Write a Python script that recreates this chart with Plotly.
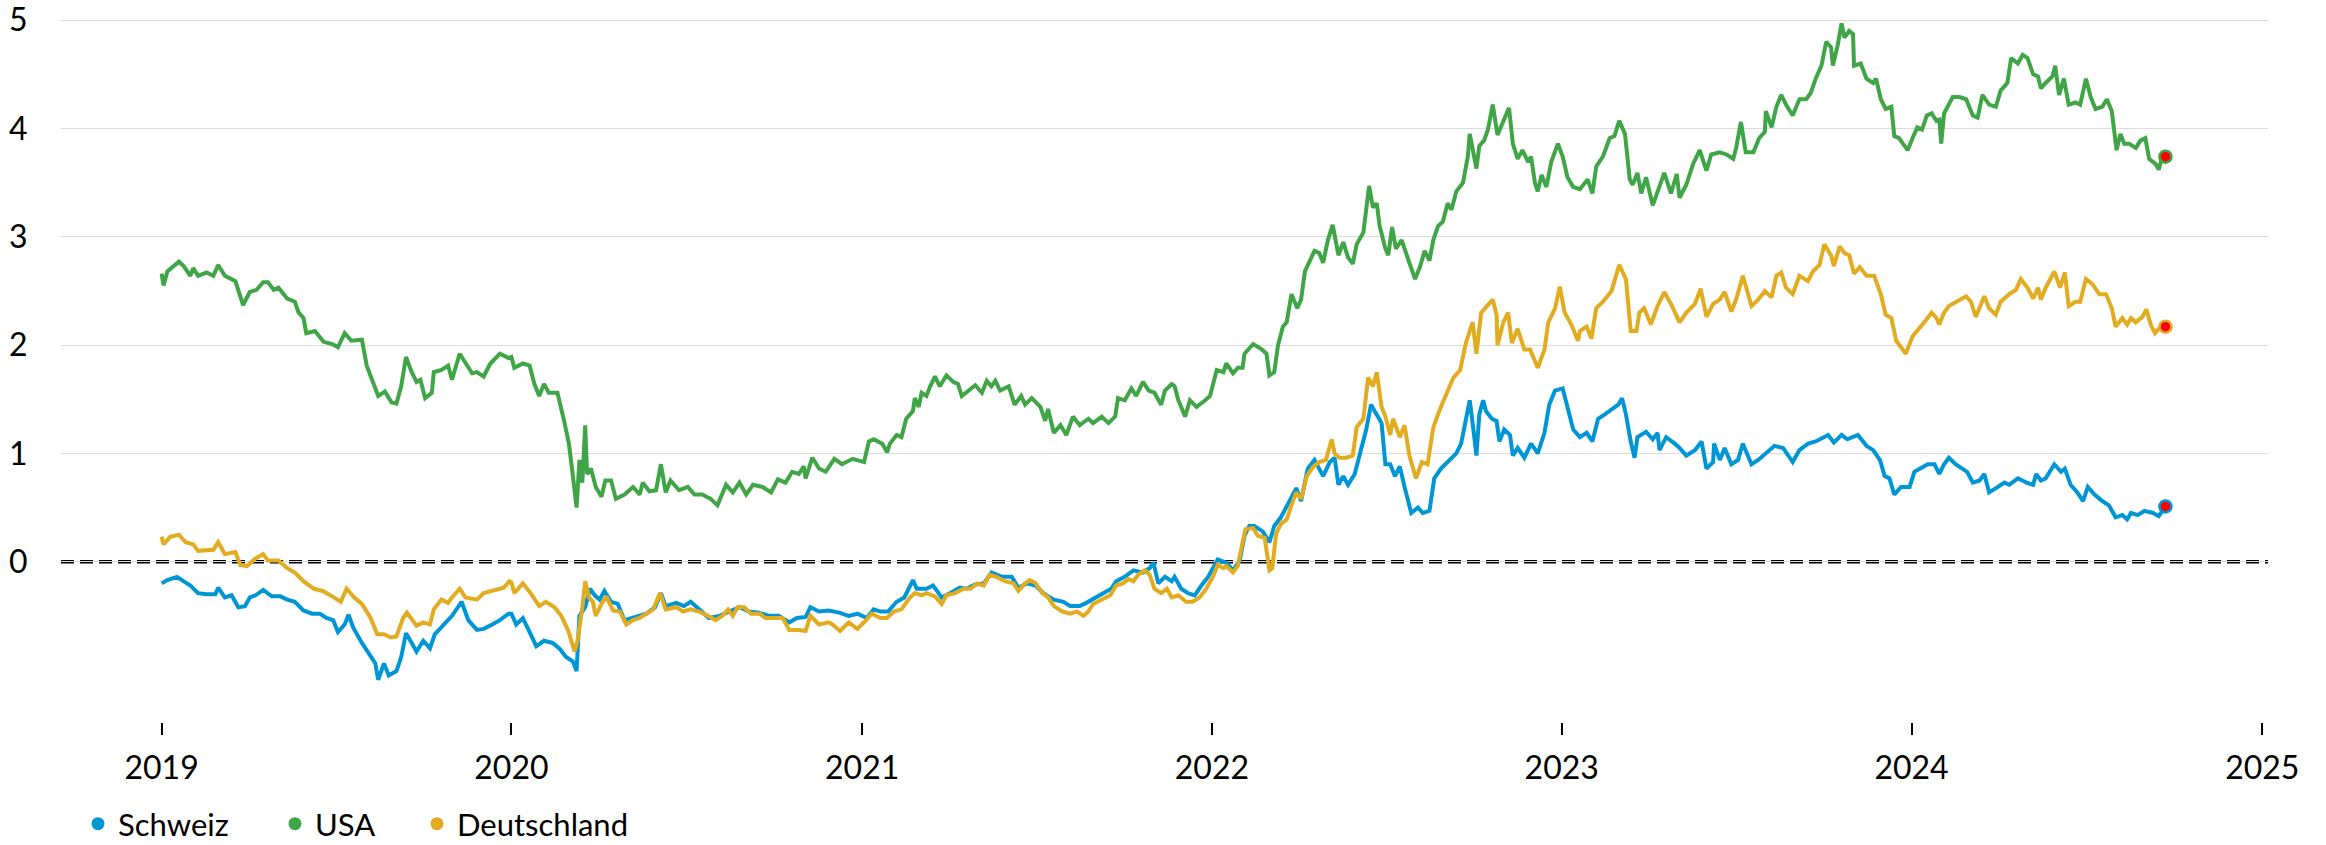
import plotly.graph_objects as go

# ---------------- data (10-year government bond yields, %) ----------------
ch_dates = [
    "2019-01-01","2019-01-07","2019-01-17","2019-01-24","2019-01-31","2019-02-08","2019-02-17","2019-02-26",
    "2019-03-01","2019-03-08","2019-03-15","2019-03-22","2019-03-29","2019-04-03","2019-04-09","2019-04-17",
    "2019-04-26","2019-05-05","2019-05-12","2019-05-20","2019-05-29","2019-06-07","2019-06-15","2019-06-22",
    "2019-06-29","2019-07-04","2019-07-11","2019-07-15","2019-07-20","2019-07-29","2019-08-07","2019-08-12",
    "2019-08-15","2019-08-21","2019-08-26","2019-09-03","2019-09-08","2019-09-13","2019-09-19","2019-09-24",
    "2019-10-01","2019-10-08","2019-10-13","2019-10-22","2019-10-31","2019-11-10","2019-11-17","2019-11-26",
    "2019-12-03","2019-12-12","2019-12-20","2019-12-29",
    "2020-01-01","2020-01-06","2020-01-13","2020-01-20","2020-01-27","2020-02-04","2020-02-13","2020-02-20",
    "2020-02-27","2020-03-05","2020-03-09","2020-03-12","2020-03-18","2020-03-23","2020-03-28","2020-04-02",
    "2020-04-07","2020-04-14","2020-04-21","2020-04-28","2020-05-07","2020-05-14","2020-05-21","2020-05-30",
    "2020-06-05","2020-06-10","2020-06-21","2020-06-29","2020-07-06","2020-07-15","2020-07-25","2020-08-05",
    "2020-08-15","2020-08-26","2020-09-05","2020-09-15","2020-09-26","2020-10-06","2020-10-17","2020-10-25",
    "2020-11-03","2020-11-08","2020-11-17","2020-11-27","2020-12-08","2020-12-18","2020-12-27",
    "2021-01-06","2021-01-13","2021-01-20","2021-01-28","2021-02-06","2021-02-14","2021-02-18","2021-02-23",
    "2021-02-27","2021-03-09","2021-03-16","2021-03-25","2021-04-03","2021-04-13","2021-04-20","2021-04-29",
    "2021-05-08","2021-05-16","2021-05-27","2021-06-06","2021-06-13","2021-06-22","2021-07-01","2021-07-09",
    "2021-07-20","2021-07-30","2021-08-06","2021-08-16","2021-08-23","2021-09-01","2021-09-10","2021-09-18",
    "2021-09-23","2021-10-02","2021-10-11","2021-10-21","2021-10-28","2021-11-01","2021-11-06","2021-11-13",
    "2021-11-20","2021-11-23","2021-11-30","2021-12-07","2021-12-14","2021-12-21","2021-12-28",
    "2022-01-07","2022-01-16","2022-01-23","2022-01-30","2022-02-04","2022-02-09","2022-02-14","2022-02-23",
    "2022-03-02","2022-03-07","2022-03-14","2022-03-21","2022-03-30","2022-04-04","2022-04-11","2022-04-18",
    "2022-04-27","2022-05-04","2022-05-09","2022-05-13","2022-05-18","2022-05-23","2022-05-30","2022-06-06",
    "2022-06-11","2022-06-16","2022-06-22","2022-06-27","2022-07-01","2022-07-06","2022-07-11","2022-07-16",
    "2022-07-21","2022-07-28","2022-08-04","2022-08-09","2022-08-16","2022-08-21","2022-08-28","2022-09-06",
    "2022-09-13","2022-09-18","2022-09-23","2022-09-27","2022-09-30","2022-10-04","2022-10-07","2022-10-11",
    "2022-10-14","2022-10-20","2022-10-25","2022-10-28","2022-11-02","2022-11-08","2022-11-11","2022-11-16",
    "2022-11-23","2022-11-30","2022-12-07","2022-12-14","2022-12-19","2022-12-25",
    "2023-01-02","2023-01-07","2023-01-13","2023-01-20","2023-01-27","2023-02-02","2023-02-08","2023-02-15",
    "2023-02-22","2023-03-01","2023-03-05","2023-03-09","2023-03-14","2023-03-18","2023-03-21","2023-03-30",
    "2023-04-06","2023-04-11","2023-04-13","2023-04-20","2023-04-29","2023-05-04","2023-05-11","2023-05-20",
    "2023-05-27","2023-06-01","2023-06-08","2023-06-09","2023-06-15","2023-06-20","2023-06-27","2023-07-04",
    "2023-07-09","2023-07-18","2023-07-25","2023-08-02","2023-08-11","2023-08-20","2023-08-30","2023-09-06",
    "2023-09-15","2023-09-23","2023-10-06","2023-10-12","2023-10-20","2023-10-26","2023-11-06","2023-11-15",
    "2023-11-22","2023-11-29","2023-12-04","2023-12-09","2023-12-14","2023-12-21","2023-12-30",
    "2024-01-04","2024-01-11","2024-01-18","2024-01-25","2024-01-30","2024-02-04","2024-02-09","2024-02-16",
    "2024-02-23","2024-02-28","2024-03-05","2024-03-12","2024-03-17","2024-03-22","2024-03-31","2024-04-07",
    "2024-04-12","2024-04-21","2024-04-30","2024-05-07","2024-05-10","2024-05-15","2024-05-20","2024-05-29",
    "2024-06-05","2024-06-09","2024-06-15","2024-06-22","2024-06-28","2024-07-03","2024-07-10","2024-07-18",
    "2024-07-25","2024-08-01","2024-08-08","2024-08-13","2024-08-17","2024-08-24","2024-08-31","2024-09-09",
    "2024-09-15","2024-09-22",
]
ch_values = [
    -0.20,-0.17,-0.14,-0.18,-0.22,-0.29,-0.30,-0.30,
    -0.24,-0.33,-0.31,-0.42,-0.41,-0.33,-0.31,-0.26,
    -0.32,-0.32,-0.35,-0.37,-0.45,-0.48,-0.48,-0.52,
    -0.54,-0.65,-0.58,-0.49,-0.61,-0.75,-0.88,-0.94,
    -1.09,-0.94,-1.05,-1.01,-0.88,-0.66,-0.75,-0.83,
    -0.73,-0.80,-0.67,-0.58,-0.50,-0.37,-0.54,-0.63,
    -0.62,-0.58,-0.54,-0.48,
    -0.48,-0.58,-0.52,-0.65,-0.78,-0.73,-0.75,-0.80,
    -0.88,-0.92,-1.01,-0.50,-0.42,-0.25,-0.31,-0.35,
    -0.27,-0.37,-0.39,-0.54,-0.52,-0.50,-0.48,-0.42,
    -0.29,-0.41,-0.38,-0.41,-0.37,-0.44,-0.52,-0.50,
    -0.46,-0.42,-0.46,-0.47,-0.50,-0.50,-0.56,-0.52,
    -0.51,-0.42,-0.46,-0.45,-0.47,-0.50,-0.48,
    -0.52,-0.44,-0.46,-0.46,-0.37,-0.33,-0.25,-0.17,
    -0.25,-0.25,-0.22,-0.33,-0.29,-0.24,-0.25,-0.21,
    -0.20,-0.10,-0.14,-0.14,-0.24,-0.20,-0.22,-0.29,
    -0.35,-0.37,-0.41,-0.41,-0.38,-0.33,-0.29,-0.25,
    -0.18,-0.14,-0.08,-0.10,-0.06,-0.01,-0.20,-0.14,
    -0.18,-0.14,-0.25,-0.29,-0.31,-0.22,-0.14,
    0.02,-0.01,-0.08,0.01,0.24,0.33,0.33,0.28,
    0.18,0.33,0.41,0.52,0.68,0.56,0.86,0.94,
    0.79,0.92,0.96,0.71,0.79,0.71,0.81,1.05,
    1.22,1.45,1.36,1.28,0.90,0.90,0.79,0.88,
    0.69,0.45,0.50,0.45,0.47,0.77,0.86,0.94,
    1.00,1.09,1.34,1.49,1.28,0.98,1.36,1.49,
    1.39,1.32,1.30,1.11,1.22,1.17,0.98,1.05,
    0.96,1.09,1.00,1.19,1.45,1.58,
    1.60,1.41,1.22,1.15,1.19,1.11,1.32,1.36,
    1.41,1.45,1.51,1.36,1.11,0.96,1.15,1.20,
    1.13,1.19,1.03,1.15,1.09,1.05,0.98,1.03,
    1.11,0.86,0.92,1.09,0.94,1.05,0.90,0.94,
    1.09,0.90,0.94,1.00,1.07,1.05,0.92,1.03,
    1.09,1.11,1.17,1.10,1.17,1.13,1.17,1.07,
    1.03,0.94,0.79,0.77,0.62,0.69,0.69,
    0.83,0.86,0.90,0.90,0.81,0.90,0.96,0.90,
    0.86,0.83,0.73,0.75,0.81,0.64,0.69,0.73,
    0.71,0.77,0.73,0.71,0.81,0.75,0.77,0.90,
    0.83,0.86,0.71,0.64,0.56,0.69,0.62,0.56,
    0.52,0.41,0.43,0.39,0.45,0.43,0.47,0.45,
    0.42,0.51,
]

us_dates = [
    "2019-01-01","2019-01-03","2019-01-07","2019-01-12","2019-01-19","2019-01-24","2019-01-31","2019-02-03",
    "2019-02-08","2019-02-17","2019-02-24","2019-03-01","2019-03-08","2019-03-19","2019-03-24","2019-03-27",
    "2019-04-03","2019-04-10","2019-04-17","2019-04-22","2019-04-28","2019-05-03","2019-05-12","2019-05-20",
    "2019-05-24","2019-05-29","2019-06-01","2019-06-10","2019-06-19","2019-06-28","2019-07-04","2019-07-11",
    "2019-07-18","2019-07-29","2019-08-03","2019-08-10","2019-08-15","2019-08-22","2019-08-29","2019-09-03",
    "2019-09-08","2019-09-13","2019-09-19","2019-09-24","2019-09-28","2019-10-03","2019-10-10","2019-10-12",
    "2019-10-20","2019-10-27","2019-10-31","2019-11-08","2019-11-14","2019-11-21","2019-11-26","2019-12-03",
    "2019-12-10","2019-12-20","2019-12-29",
    "2020-01-01","2020-01-04","2020-01-13","2020-01-20","2020-01-25","2020-01-30","2020-02-04","2020-02-09",
    "2020-02-18","2020-02-25","2020-03-01","2020-03-06","2020-03-09","2020-03-12","2020-03-15","2020-03-18",
    "2020-03-20","2020-03-24","2020-03-29","2020-04-04","2020-04-08","2020-04-14","2020-04-19","2020-04-28",
    "2020-05-07","2020-05-14","2020-05-17","2020-05-24","2020-05-31","2020-06-05","2020-06-10","2020-06-15",
    "2020-06-24","2020-07-03","2020-07-10","2020-07-18","2020-07-27","2020-08-03","2020-08-12","2020-08-19",
    "2020-08-26","2020-09-02","2020-09-09","2020-09-19","2020-09-28","2020-10-05","2020-10-13","2020-10-20",
    "2020-10-27","2020-11-01","2020-11-03","2020-11-10","2020-11-17","2020-11-24","2020-12-03","2020-12-11",
    "2020-12-22",
    "2021-01-03","2021-01-08","2021-01-13","2021-01-22","2021-01-27","2021-01-30","2021-02-06","2021-02-11",
    "2021-02-16","2021-02-23","2021-02-25","2021-03-01","2021-03-04","2021-03-09","2021-03-13","2021-03-18",
    "2021-03-23","2021-03-30","2021-04-06","2021-04-11","2021-04-15","2021-04-22","2021-04-29","2021-05-06",
    "2021-05-11","2021-05-16","2021-05-20","2021-05-25","2021-06-03","2021-06-09","2021-06-16","2021-06-20",
    "2021-06-27","2021-07-06","2021-07-11","2021-07-14","2021-07-20","2021-07-27","2021-08-02","2021-08-09",
    "2021-08-16","2021-08-25","2021-08-30","2021-09-08","2021-09-15","2021-09-22","2021-09-25","2021-10-02",
    "2021-10-09","2021-10-14","2021-10-21","2021-10-27","2021-11-02","2021-11-09","2021-11-13","2021-11-20",
    "2021-11-23","2021-11-27","2021-12-04","2021-12-09","2021-12-16","2021-12-25","2021-12-30",
    "2022-01-06","2022-01-13","2022-01-16","2022-01-23","2022-01-28","2022-02-02","2022-02-04","2022-02-13",
    "2022-02-22","2022-02-27","2022-03-02","2022-03-07","2022-03-11","2022-03-16","2022-03-20","2022-03-25",
    "2022-03-31","2022-04-04","2022-04-08","2022-04-13","2022-04-18","2022-04-23","2022-04-27","2022-05-02",
    "2022-05-07","2022-05-13","2022-05-18","2022-05-23","2022-05-28","2022-06-01","2022-06-08","2022-06-14",
    "2022-06-18","2022-06-22","2022-06-25","2022-07-01","2022-07-04","2022-07-08","2022-07-12","2022-07-18",
    "2022-07-23","2022-07-26","2022-08-01","2022-08-06","2022-08-11","2022-08-16","2022-08-20","2022-08-25",
    "2022-08-30","2022-09-04","2022-09-08","2022-09-13","2022-09-20","2022-09-25","2022-09-27","2022-09-30",
    "2022-10-04","2022-10-07","2022-10-12","2022-10-16","2022-10-21","2022-10-26","2022-11-01","2022-11-07",
    "2022-11-11","2022-11-16","2022-11-21","2022-11-27","2022-11-30","2022-12-04","2022-12-07","2022-12-11",
    "2022-12-16","2022-12-21","2022-12-28",
    "2023-01-02","2023-01-07","2023-01-13","2023-01-20","2023-01-28","2023-02-02","2023-02-06","2023-02-13",
    "2023-02-20","2023-02-25","2023-03-02","2023-03-08","2023-03-13","2023-03-16","2023-03-21","2023-03-25",
    "2023-03-30","2023-04-06","2023-04-13","2023-04-18","2023-04-25","2023-05-01","2023-05-04","2023-05-11",
    "2023-05-18","2023-05-25","2023-06-01","2023-06-06","2023-06-15","2023-06-22","2023-06-29","2023-07-02",
    "2023-07-07","2023-07-12","2023-07-20","2023-07-26","2023-08-01","2023-08-02","2023-08-08","2023-08-13",
    "2023-08-18","2023-08-23","2023-08-30","2023-09-06","2023-09-13","2023-09-18","2023-09-23","2023-09-29",
    "2023-10-04","2023-10-09","2023-10-11","2023-10-16","2023-10-20","2023-10-23","2023-10-28","2023-11-01",
    "2023-11-02","2023-11-09","2023-11-15","2023-11-22","2023-11-25","2023-11-30","2023-12-05","2023-12-11",
    "2023-12-14","2023-12-19","2023-12-23","2023-12-28",
    "2024-01-02","2024-01-07","2024-01-12","2024-01-17","2024-01-22","2024-01-27","2024-01-30","2024-02-01",
    "2024-02-04","2024-02-13","2024-02-20","2024-02-27","2024-03-05","2024-03-10","2024-03-15","2024-03-22",
    "2024-03-29","2024-04-03","2024-04-10","2024-04-14","2024-04-21","2024-04-26","2024-05-01","2024-05-07",
    "2024-05-12","2024-05-15","2024-05-20","2024-05-27","2024-05-30","2024-06-03","2024-06-08","2024-06-13",
    "2024-06-20","2024-06-25","2024-07-01","2024-07-06","2024-07-11","2024-07-18","2024-07-23","2024-07-28",
    "2024-08-02","2024-08-06","2024-08-10","2024-08-15","2024-08-22","2024-08-27","2024-09-01","2024-09-05",
    "2024-09-12","2024-09-15","2024-09-18","2024-09-22",
]
us_values = [
    2.66,2.55,2.68,2.72,2.77,2.73,2.64,2.71,
    2.64,2.67,2.64,2.74,2.64,2.59,2.44,2.37,
    2.49,2.51,2.58,2.58,2.51,2.53,2.43,2.40,
    2.30,2.25,2.11,2.13,2.03,2.01,1.98,2.11,
    2.04,2.05,1.81,1.66,1.53,1.57,1.47,1.46,
    1.62,1.89,1.75,1.66,1.68,1.51,1.56,1.75,
    1.77,1.81,1.68,1.92,1.83,1.74,1.75,1.71,
    1.83,1.92,1.88,
    1.89,1.79,1.83,1.81,1.64,1.53,1.64,1.56,
    1.56,1.30,1.09,0.73,0.50,0.94,0.73,1.26,
    0.81,0.86,0.69,0.60,0.75,0.75,0.58,0.62,
    0.69,0.62,0.73,0.65,0.66,0.90,0.64,0.75,
    0.66,0.69,0.62,0.62,0.58,0.52,0.71,0.64,
    0.73,0.62,0.71,0.69,0.64,0.76,0.73,0.83,
    0.81,0.88,0.77,0.96,0.86,0.83,0.95,0.90,
    0.95,
    0.92,1.11,1.13,1.09,1.01,1.09,1.17,1.15,
    1.32,1.39,1.51,1.43,1.56,1.53,1.62,1.71,
    1.62,1.72,1.66,1.64,1.53,1.58,1.63,1.56,
    1.67,1.62,1.67,1.58,1.62,1.45,1.53,1.45,
    1.51,1.43,1.30,1.41,1.19,1.26,1.17,1.34,
    1.26,1.32,1.28,1.34,1.28,1.34,1.51,1.49,
    1.60,1.53,1.66,1.58,1.56,1.45,1.58,1.64,
    1.62,1.49,1.34,1.49,1.43,1.49,1.53,
    1.77,1.75,1.83,1.74,1.79,1.79,1.92,2.01,
    1.96,1.92,1.72,1.75,2.00,2.17,2.21,2.47,
    2.34,2.42,2.68,2.78,2.87,2.85,2.76,2.97,
    3.11,2.83,2.95,2.81,2.75,2.93,3.04,3.47,
    3.27,3.31,3.10,2.89,2.83,3.09,2.89,2.97,
    2.83,2.76,2.61,2.72,2.87,2.78,2.97,3.10,
    3.14,3.31,3.25,3.42,3.50,3.74,3.95,3.80,
    3.63,3.84,3.89,3.99,4.22,3.94,4.06,4.19,
    3.86,3.72,3.80,3.69,3.74,3.50,3.42,3.57,
    3.46,3.69,3.86,
    3.74,3.55,3.46,3.44,3.53,3.40,3.65,3.74,
    3.91,3.93,4.07,3.95,3.53,3.48,3.59,3.40,
    3.55,3.29,3.46,3.59,3.40,3.58,3.36,3.48,
    3.67,3.80,3.61,3.76,3.78,3.76,3.72,3.82,
    4.06,3.78,3.78,3.91,3.97,4.16,4.01,4.20,
    4.31,4.22,4.12,4.27,4.27,4.33,4.46,4.58,
    4.80,4.75,4.58,4.77,4.97,4.84,4.90,4.87,
    4.58,4.60,4.46,4.42,4.46,4.27,4.18,4.20,
    3.93,3.91,3.86,3.80,
    3.91,4.01,3.99,4.12,4.14,4.07,4.08,3.86,
    4.14,4.29,4.29,4.27,4.12,4.10,4.31,4.22,
    4.20,4.35,4.42,4.65,4.60,4.68,4.65,4.50,
    4.48,4.37,4.42,4.48,4.58,4.31,4.46,4.22,
    4.24,4.22,4.46,4.29,4.18,4.20,4.27,4.16,
    3.80,3.95,3.86,3.86,3.82,3.89,3.91,3.72,
    3.67,3.62,3.72,3.74,
]

de_dates = [
    "2019-01-01","2019-01-03","2019-01-10","2019-01-19","2019-01-26","2019-02-03","2019-02-08","2019-02-17",
    "2019-02-24","2019-03-01","2019-03-08","2019-03-19","2019-03-24","2019-03-31","2019-04-09","2019-04-17",
    "2019-04-22","2019-05-03","2019-05-12","2019-05-20","2019-05-29","2019-06-09","2019-06-18","2019-06-28",
    "2019-07-07","2019-07-13","2019-07-21","2019-07-29","2019-08-07","2019-08-14","2019-08-21","2019-08-28",
    "2019-09-03","2019-09-10","2019-09-14","2019-09-24","2019-10-01","2019-10-08","2019-10-12","2019-10-20",
    "2019-10-27","2019-10-31","2019-11-08","2019-11-14","2019-11-26","2019-12-03","2019-12-13","2019-12-24",
    "2019-12-30",
    "2020-01-01","2020-01-04","2020-01-13","2020-01-21","2020-01-30","2020-02-06","2020-02-15","2020-02-22",
    "2020-02-29","2020-03-07","2020-03-10","2020-03-15","2020-03-18","2020-03-22","2020-03-26","2020-03-29",
    "2020-04-04","2020-04-09","2020-04-16","2020-04-23","2020-04-30","2020-05-07","2020-05-14","2020-05-21",
    "2020-05-28","2020-06-04","2020-06-10","2020-06-21","2020-06-28","2020-07-06","2020-07-15","2020-07-24",
    "2020-08-01","2020-08-08","2020-08-14","2020-08-19","2020-08-24","2020-08-31","2020-09-07","2020-09-16",
    "2020-09-22","2020-10-01","2020-10-10","2020-10-17","2020-10-27","2020-11-03","2020-11-08","2020-11-17",
    "2020-11-27","2020-12-01","2020-12-09","2020-12-18","2020-12-27",
    "2021-01-04","2021-01-11","2021-01-20","2021-01-27","2021-02-03","2021-02-11","2021-02-20","2021-02-25",
    "2021-03-04","2021-03-09","2021-03-18","2021-03-25","2021-03-30","2021-04-08","2021-04-17","2021-04-24",
    "2021-05-01","2021-05-08","2021-05-14","2021-05-21","2021-05-30","2021-06-08","2021-06-13","2021-06-20",
    "2021-06-25","2021-07-01","2021-07-08","2021-07-14","2021-07-20","2021-07-29","2021-08-06","2021-08-13",
    "2021-08-20","2021-08-25","2021-08-30","2021-09-08","2021-09-17","2021-09-23","2021-09-30","2021-10-06",
    "2021-10-11","2021-10-16","2021-10-23","2021-10-28","2021-11-02","2021-11-09","2021-11-15","2021-11-20",
    "2021-11-27","2021-12-05","2021-12-12","2021-12-19","2021-12-26",
    "2022-01-02","2022-01-07","2022-01-13","2022-01-16","2022-01-23","2022-01-28","2022-02-02","2022-02-05",
    "2022-02-13","2022-02-18","2022-02-25","2022-03-02","2022-03-05","2022-03-09","2022-03-14","2022-03-20",
    "2022-03-25","2022-03-30","2022-04-04","2022-04-10","2022-04-17","2022-04-23","2022-04-30","2022-05-06",
    "2022-05-09","2022-05-14","2022-05-21","2022-05-28","2022-06-01","2022-06-08","2022-06-13","2022-06-18",
    "2022-06-22","2022-06-27","2022-07-01","2022-07-06","2022-07-09","2022-07-16","2022-07-21","2022-07-26",
    "2022-08-02","2022-08-08","2022-08-14","2022-08-20","2022-08-27","2022-09-03","2022-09-10","2022-09-17",
    "2022-09-23","2022-09-30","2022-10-04","2022-10-09","2022-10-14","2022-10-21","2022-10-25","2022-10-26",
    "2022-11-01","2022-11-06","2022-11-10","2022-11-16","2022-11-23","2022-11-29","2022-12-07","2022-12-14",
    "2022-12-18","2022-12-25","2022-12-30",
    "2023-01-04","2023-01-11","2023-01-18","2023-01-20","2023-01-27","2023-02-01","2023-02-06","2023-02-13",
    "2023-02-22","2023-03-02","2023-03-09","2023-03-14","2023-03-20","2023-03-23","2023-03-28","2023-04-04",
    "2023-04-11","2023-04-18","2023-04-25","2023-05-04","2023-05-11","2023-05-20","2023-05-26","2023-06-01",
    "2023-06-08","2023-06-15","2023-06-20","2023-06-27","2023-07-02","2023-07-09","2023-07-18","2023-07-25",
    "2023-08-01","2023-08-08","2023-08-13","2023-08-18","2023-08-23","2023-08-30","2023-09-06","2023-09-15",
    "2023-09-20","2023-09-27","2023-10-02","2023-10-09","2023-10-12","2023-10-18","2023-10-23","2023-10-28",
    "2023-11-02","2023-11-08","2023-11-15","2023-11-23","2023-11-30","2023-12-05","2023-12-11","2023-12-16",
    "2023-12-21","2023-12-26",
    "2024-01-02","2024-01-09","2024-01-16","2024-01-22","2024-01-27","2024-01-30","2024-02-04","2024-02-09",
    "2024-02-18","2024-02-27","2024-03-03","2024-03-08","2024-03-17","2024-03-22","2024-03-29","2024-04-03",
    "2024-04-12","2024-04-19","2024-04-24","2024-05-01","2024-05-07","2024-05-12","2024-05-15","2024-05-20",
    "2024-05-29","2024-06-04","2024-06-09","2024-06-13","2024-06-20","2024-06-25","2024-07-01","2024-07-08",
    "2024-07-15","2024-07-22","2024-07-28","2024-08-01","2024-08-08","2024-08-13","2024-08-17","2024-08-22",
    "2024-08-29","2024-09-02","2024-09-07","2024-09-11","2024-09-15","2024-09-22",
]
de_values = [
    0.23,0.16,0.23,0.25,0.18,0.16,0.10,0.11,
    0.11,0.18,0.07,0.09,-0.03,-0.04,0.03,0.07,
    0.01,0.01,-0.06,-0.10,-0.18,-0.25,-0.27,-0.32,
    -0.37,-0.25,-0.33,-0.39,-0.52,-0.67,-0.67,-0.70,
    -0.69,-0.52,-0.47,-0.59,-0.56,-0.58,-0.44,-0.35,
    -0.38,-0.33,-0.25,-0.33,-0.35,-0.29,-0.27,-0.24,
    -0.18,
    -0.19,-0.29,-0.20,-0.29,-0.41,-0.37,-0.42,-0.50,
    -0.63,-0.83,-0.73,-0.42,-0.18,-0.33,-0.37,-0.50,
    -0.39,-0.32,-0.45,-0.46,-0.58,-0.54,-0.52,-0.48,
    -0.44,-0.29,-0.44,-0.42,-0.46,-0.44,-0.46,-0.50,
    -0.54,-0.50,-0.44,-0.50,-0.42,-0.42,-0.48,-0.48,
    -0.52,-0.52,-0.52,-0.63,-0.63,-0.64,-0.50,-0.58,
    -0.56,-0.58,-0.64,-0.56,-0.62,
    -0.55,-0.48,-0.52,-0.52,-0.46,-0.44,-0.33,-0.29,
    -0.31,-0.29,-0.32,-0.39,-0.31,-0.29,-0.25,-0.25,
    -0.20,-0.22,-0.12,-0.14,-0.18,-0.20,-0.27,-0.20,
    -0.17,-0.20,-0.29,-0.33,-0.41,-0.46,-0.48,-0.46,
    -0.50,-0.46,-0.39,-0.35,-0.31,-0.22,-0.20,-0.16,
    -0.18,-0.12,-0.08,-0.12,-0.25,-0.29,-0.25,-0.33,
    -0.31,-0.37,-0.37,-0.33,-0.25,
    -0.14,-0.03,-0.06,-0.04,-0.10,-0.04,0.18,0.30,
    0.31,0.24,0.22,-0.08,-0.06,0.26,0.35,0.39,
    0.52,0.64,0.58,0.79,0.88,0.92,0.94,1.13,
    1.00,0.96,0.96,0.98,1.24,1.32,1.70,1.62,
    1.75,1.43,1.34,1.17,1.32,1.15,1.26,0.98,
    0.77,0.92,0.90,1.24,1.41,1.56,1.70,1.77,
    2.02,2.21,1.92,2.30,2.35,2.42,2.28,2.00,
    2.21,2.30,2.02,2.15,1.96,1.96,1.79,1.96,
    2.21,2.34,2.54,
    2.30,2.19,2.04,2.13,2.17,2.06,2.34,2.40,
    2.50,2.74,2.61,2.13,2.13,2.30,2.34,2.19,
    2.36,2.49,2.38,2.21,2.30,2.38,2.52,2.26,
    2.38,2.42,2.49,2.31,2.42,2.64,2.36,2.42,
    2.50,2.44,2.64,2.67,2.53,2.47,2.64,2.59,
    2.68,2.74,2.93,2.83,2.73,2.91,2.85,2.83,
    2.66,2.72,2.64,2.64,2.47,2.28,2.25,2.04,
    1.98,1.92,
    2.08,2.15,2.23,2.30,2.25,2.19,2.30,2.36,
    2.40,2.45,2.40,2.26,2.45,2.34,2.28,2.40,
    2.47,2.51,2.61,2.53,2.43,2.53,2.42,2.53,
    2.68,2.53,2.67,2.36,2.40,2.40,2.61,2.56,
    2.47,2.47,2.34,2.17,2.25,2.19,2.25,2.21,
    2.26,2.33,2.18,2.11,2.15,2.17,
]

series_names = ["Schweiz", "USA", "Deutschland"]
series_colors = ["#0096D6", "#40A547", "#E2AC21"]
y_tick_values = [0, 1, 2, 3, 4, 5]
x_tick_values = ["2019-01-01", "2020-01-01", "2021-01-01", "2022-01-01",
                 "2023-01-01", "2024-01-01", "2025-01-01"]
x_tick_labels = ["2019", "2020", "2021", "2022", "2023", "2024", "2025"]

# ---------------- figure ----------------
FONT = "Lato, 'Liberation Sans', Arial, sans-serif"
FS = 32
LEG_FS = 31
series = [(ch_dates, ch_values), (us_dates, us_values), (de_dates, de_values)]

fig = go.Figure()
for (dates, vals), name, col in zip(series, series_names, series_colors):
    fig.add_trace(go.Scatter(
        x=dates, y=vals, mode="lines", name=name,
        line=dict(color=col, width=4), showlegend=False, hoverinfo="skip",
    ))
for (dates, vals), name, col in zip(series, series_names, series_colors):
    fig.add_trace(go.Scatter(
        x=[dates[-1]], y=[vals[-1]], mode="markers", name=name,
        marker=dict(color="#FF0000", size=12, line=dict(color=col, width=2.5)),
        showlegend=False, hoverinfo="skip",
    ))
legend_ids = ["legend", "legend2", "legend3"]
for name, col, lid in zip(series_names, series_colors, legend_ids):
    fig.add_trace(go.Scatter(
        x=[None], y=[None], mode="markers", name=name, legend=lid,
        marker=dict(color=col, size=13), showlegend=True,
    ))

L, R, T, B = 61, 58, 18, 123
W, H = 2326, 845
pw = W - L - R
ph = H - T - B

def leg(px, py=824):
    return dict(
        x=(px - L) / pw, xanchor="left", y=-(py - (H - B)) / ph, yanchor="middle",
        orientation="h", bgcolor="rgba(0,0,0,0)", borderwidth=0,
        font=dict(family=FONT, size=LEG_FS, color="#000000"),
    )

fig.update_layout(
    width=W, height=H,
    margin=dict(l=L, r=R, t=T, b=B, pad=0, autoexpand=False),
    paper_bgcolor="white", plot_bgcolor="white",
    font=dict(family=FONT, size=FS, color="#000000"),
    legend=leg(78), legend2=leg(275), legend3=leg(417),
    xaxis=dict(
        type="date", range=["2018-09-18", "2025-01-07"],
        tickvals=x_tick_values, ticktext=x_tick_labels,
        showgrid=False, zeroline=False, showline=False,
        ticks="outside", ticklen=12, tickwidth=2, tickcolor="#000000",
        ticklabelstandoff=6, ticklabeloverflow="allow",
        tickfont=dict(family=FONT, size=FS, color="#000000"),
    ),
    yaxis=dict(
        range=[-1.48, 5.02], tickvals=y_tick_values,
        showgrid=True, gridcolor="#DCDCDC", gridwidth=1,
        zeroline=False, showline=False,
        ticks="outside", ticklen=26, tickcolor="rgba(0,0,0,0)",
        ticklabeloverflow="allow",
        tickfont=dict(family=FONT, size=FS, color="#000000"),
    ),
    shapes=[dict(
        type="line", xref="paper", x0=0, x1=1, yref="y", y0=0, y1=0,
        line=dict(color="#000000", width=3.5, dash="13px,6px"), layer="below",
        opacity=1,
    )],
)

fig.write_html("out.html", config={"displayModeBar": False},
               post_script="document.body.style.margin='0';")
